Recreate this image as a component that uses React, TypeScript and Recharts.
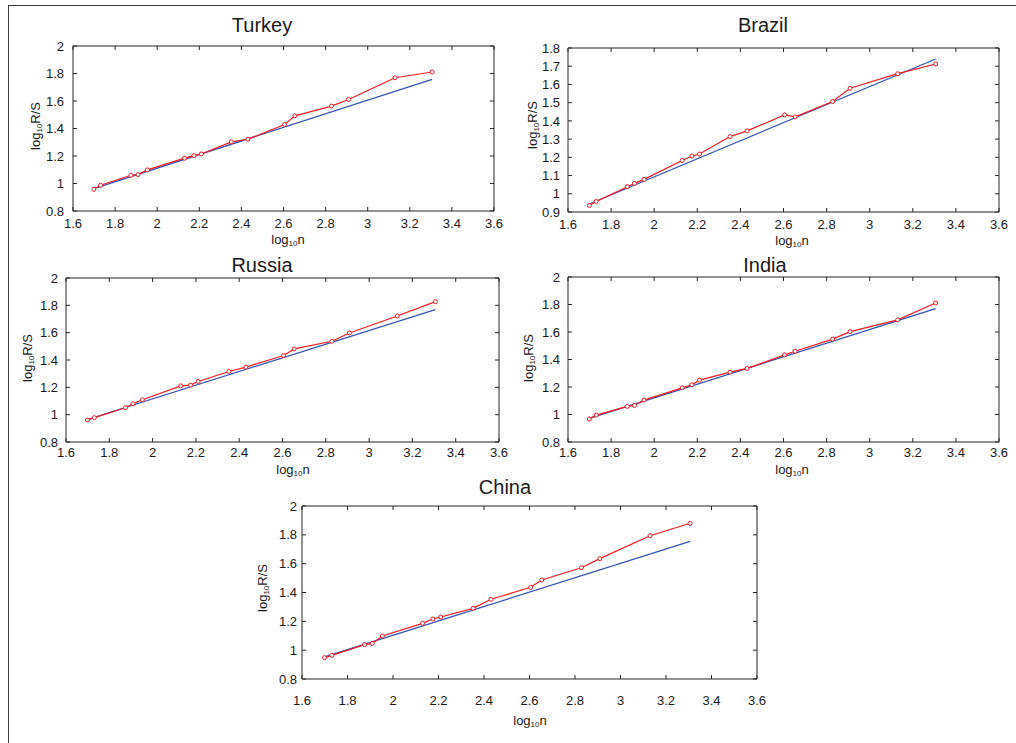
import React from "react";
import { LineChart, Line, XAxis, YAxis, Label } from "recharts";

// log10 n, shared by all panels
const logN = [1.699, 1.731, 1.875, 1.909, 1.953, 2.13, 2.175, 2.21, 2.352, 2.431, 2.605, 2.654, 2.828, 2.909, 3.13, 3.306];

const xTicks = [1.6, 1.8, 2, 2.2, 2.4, 2.6, 2.8, 3, 3.2, 3.4, 3.6];
const yTicksWide = [0.8, 1, 1.2, 1.4, 1.6, 1.8, 2];
const yTicksBrazil = [0.9, 1, 1.1, 1.2, 1.3, 1.4, 1.5, 1.6, 1.7, 1.8];

// log10 R/S per country, and the fitted line at the first and last n
const turkey = [0.958, 0.987, 1.06, 1.065, 1.099, 1.184, 1.203, 1.215, 1.303, 1.322, 1.429, 1.492, 1.563, 1.611, 1.769, 1.811];
const turkeyFit = [0.963, 1.757];
const brazil = [0.936, 0.958, 1.039, 1.057, 1.079, 1.183, 1.207, 1.218, 1.314, 1.345, 1.433, 1.422, 1.506, 1.579, 1.659, 1.712];
const brazilFit = [0.944, 1.74];
const russia = [0.961, 0.978, 1.051, 1.08, 1.109, 1.211, 1.216, 1.243, 1.316, 1.348, 1.433, 1.481, 1.537, 1.598, 1.722, 1.827];
const russiaFit = [0.965, 1.769];
const india = [0.967, 0.996, 1.059, 1.066, 1.105, 1.194, 1.216, 1.25, 1.308, 1.335, 1.434, 1.46, 1.548, 1.603, 1.688, 1.811];
const indiaFit = [0.972, 1.77];
const china = [0.948, 0.964, 1.038, 1.047, 1.098, 1.186, 1.216, 1.23, 1.29, 1.353, 1.436, 1.487, 1.572, 1.635, 1.794, 1.88];
const chinaFit = [0.953, 1.755];

const RED = "#f21c24";
const BLUE = "#3450b4";
const AXIS = "#262626";
const TEXT = "#1a1a1a";

type Pt = [number, number];

interface PanelProps {
  title: string;
  values: number[];
  fit: number[];
  yDomain: [number, number];
  yTicks: number[];
  box: { l: number; t: number; r: number; b: number };
  titleAt: Pt;
  xLabelAt: Pt;
  yLabelAt: Pt;
  xTickGap: number;
  yTickGap: number;
}

const M = { left: 80, top: 50, right: 14, bottom: 60 };

function Panel(p: PanelProps) {
  const left = p.box.l - M.left;
  const top = p.box.t - M.top;
  const width = p.box.r - p.box.l + M.left + M.right;
  const height = p.box.b - p.box.t + M.top + M.bottom;
  const last = logN.length - 1;
  const rows = logN.map((x, i) => ({
    x,
    rs: p.values[i],
    fit: i === 0 ? p.fit[0] : i === last ? p.fit[1] : null,
  }));
  const cx = (pt: Pt) => pt[0] - left;
  const cy = (pt: Pt) => pt[1] - top;

  const titleNode = () => (
    <text x={cx(p.titleAt)} y={cy(p.titleAt)} textAnchor="middle" dominantBaseline="central" fontSize={20} fill={TEXT}>
      {p.title}
    </text>
  );
  const xLabelNode = () => (
    <text x={cx(p.xLabelAt)} y={cy(p.xLabelAt)} textAnchor="middle" dominantBaseline="central" fontSize={13} fill={TEXT}>
      log
      <tspan fontSize={8} dy={4}>10</tspan>
      <tspan dy={-4}>n</tspan>
    </text>
  );
  const yLabelNode = () => (
    <text
      x={cx(p.yLabelAt)}
      y={cy(p.yLabelAt)}
      textAnchor="middle"
      dominantBaseline="central"
      fontSize={13}
      fill={TEXT}
      transform={`rotate(-90 ${cx(p.yLabelAt)} ${cy(p.yLabelAt)})`}
    >
      log
      <tspan fontSize={8} dy={4}>10</tspan>
      <tspan dy={-4}>R/S</tspan>
    </text>
  );

  const tick = { fill: TEXT, fontSize: 13 };

  return (
    <div style={{ position: "absolute", left, top }}>
      <LineChart
        width={width}
        height={height}
        data={rows}
        margin={{ top: M.top - 1, right: M.right - 1, bottom: M.bottom - 1, left: M.left - 1 }}
      >
        <XAxis
          xAxisId="b"
          dataKey="x"
          type="number"
          domain={[1.6, 3.6]}
          ticks={xTicks}
          interval={0}
          height={1}
          tickSize={-4}
          tickMargin={p.xTickGap}
          tick={tick}
          stroke={AXIS}
          allowDataOverflow
        >
          <Label content={xLabelNode} />
        </XAxis>
        <XAxis
          xAxisId="t"
          orientation="top"
          dataKey="x"
          type="number"
          domain={[1.6, 3.6]}
          ticks={xTicks}
          interval={0}
          height={1}
          tickSize={-4}
          tickFormatter={() => ""}
          stroke={AXIS}
          allowDataOverflow
        >
          <Label content={titleNode} />
        </XAxis>
        <YAxis
          yAxisId="l"
          type="number"
          domain={p.yDomain}
          ticks={p.yTicks}
          interval={0}
          width={1}
          tickSize={-4}
          tickMargin={p.yTickGap}
          tick={tick}
          stroke={AXIS}
          allowDataOverflow
        >
          <Label content={yLabelNode} />
        </YAxis>
        <YAxis
          yAxisId="r"
          orientation="right"
          type="number"
          domain={p.yDomain}
          ticks={p.yTicks}
          interval={0}
          width={1}
          tickSize={-4}
          tickFormatter={() => ""}
          stroke={AXIS}
          allowDataOverflow
        />
        <Line
          xAxisId="b"
          yAxisId="l"
          dataKey="fit"
          stroke={BLUE}
          strokeWidth={1.2}
          dot={false}
          activeDot={false}
          connectNulls
          isAnimationActive={false}
        />
        <Line
          xAxisId="b"
          yAxisId="l"
          dataKey="rs"
          stroke={RED}
          strokeWidth={1.2}
          dot={{ r: 2, fill: "#fff", stroke: RED, strokeWidth: 1 }}
          activeDot={false}
          isAnimationActive={false}
        />
      </LineChart>
    </div>
  );
}

export default function App() {
  return (
    <div
      style={{
        position: "absolute",
        left: 0,
        top: 0,
        width: 1016,
        height: 743,
        background: "#fff",
        fontFamily: "'Liberation Sans', Arial, sans-serif",
        overflow: "hidden",
      }}
    >
      <div
        style={{
          position: "absolute",
          left: 8,
          top: 5,
          width: 1010,
          height: 740,
          borderTop: "1px solid #3a3a3a",
          borderLeft: "1px solid #3a3a3a",
        }}
      />
      <Panel
        title="Turkey"
        values={turkey}
        fit={turkeyFit}
        yDomain={[0.8, 2]}
        yTicks={yTicksWide}
        box={{ l: 73, t: 46, r: 494, b: 211 }}
        titleAt={[262, 25]}
        xLabelAt={[288, 239]}
        yLabelAt={[35, 126]}
        xTickGap={12}
        yTickGap={13}
      />
      <Panel
        title="Brazil"
        values={brazil}
        fit={brazilFit}
        yDomain={[0.9, 1.8]}
        yTicks={yTicksBrazil}
        box={{ l: 568, t: 48, r: 999, b: 212 }}
        titleAt={[763, 25]}
        xLabelAt={[792, 240]}
        yLabelAt={[532, 125]}
        xTickGap={12}
        yTickGap={12}
      />
      <Panel
        title="Russia"
        values={russia}
        fit={russiaFit}
        yDomain={[0.8, 2]}
        yTicks={yTicksWide}
        box={{ l: 66, t: 278, r: 499, b: 442 }}
        titleAt={[262, 265]}
        xLabelAt={[293, 469]}
        yLabelAt={[27, 358]}
        xTickGap={10}
        yTickGap={12}
      />
      <Panel
        title="India"
        values={india}
        fit={indiaFit}
        yDomain={[0.8, 2]}
        yTicks={yTicksWide}
        box={{ l: 568, t: 277, r: 999, b: 442 }}
        titleAt={[765, 265]}
        xLabelAt={[792, 469]}
        yLabelAt={[528, 358]}
        xTickGap={10}
        yTickGap={12}
      />
      <Panel
        title="China"
        values={china}
        fit={chinaFit}
        yDomain={[0.8, 2]}
        yTicks={yTicksWide}
        box={{ l: 302, t: 506, r: 757, b: 679 }}
        titleAt={[505, 487]}
        xLabelAt={[530, 720]}
        yLabelAt={[262, 588]}
        xTickGap={21}
        yTickGap={9}
      />
    </div>
  );
}
